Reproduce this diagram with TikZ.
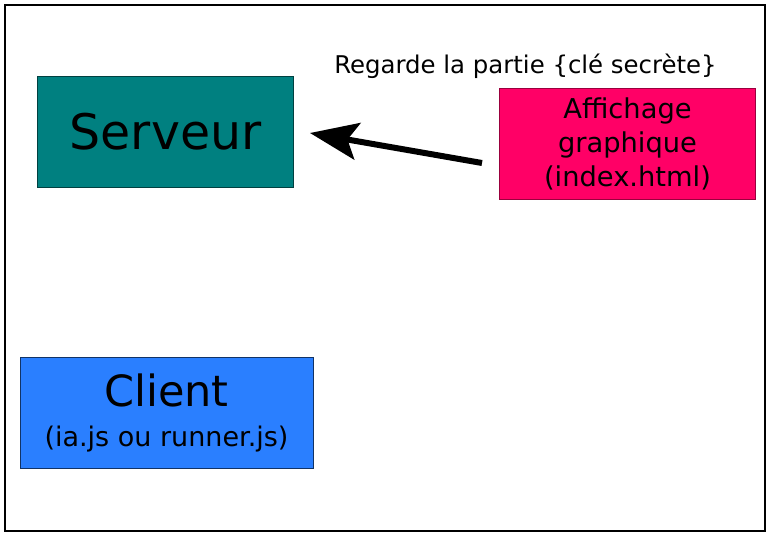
\documentclass[tikz,border=0pt]{standalone}
\usepackage{fontspec}
\setmainfont{DejaVu Sans}
\usetikzlibrary{arrows.meta}
\definecolor{tealbox}{HTML}{008080}
\definecolor{pinkbox}{HTML}{FF0066}
\definecolor{bluebox}{HTML}{2A7FFF}
\tikzset{
  box/.style={draw, line width=0.8pt, minimum width=#1, inner sep=0pt, align=center, text=black},
  frame/.style={draw=black, line width=2.8pt},
  flow/.style={line width=6pt, -{Stealth[length=48pt, width=37pt, inset=10pt]}},
}
\begin{document}
\begin{tikzpicture}[x=1pt, y=-1pt]
\useasboundingbox (0,0) rectangle (771,546);
\draw[frame] (5,5) rectangle (765,531);
\node[box=256pt, minimum height=111pt, fill=tealbox, draw=tealbox!50!black,
  font=\fontsize{49}{52}\selectfont] (serveur) at (165.5,131.5) {Serveur};
\node[box=256pt, minimum height=111pt, fill=pinkbox, draw=pinkbox!60!black,
  font=\fontsize{27.3}{34}\selectfont] (affichage) at (627.5,143.8)
  {Affichage\\graphique\\(index.html)};
\node[box=293pt, minimum height=111pt, fill=bluebox, draw=bluebox!40!black,
  font=\fontsize{27}{34}\selectfont] (client) at (166.5,412.8)
  {\fontsize{43}{46}\selectfont Client\\[6pt](ia.js ou runner.js)};
\node[anchor=base, font=\fontsize{24.4}{28}\selectfont] (regarde) at (525.5,73.5) {Regarde la partie \{clé secrète\}};
\coordinate (tail) at (482,163);
\coordinate (tip) at (310,133);
\draw[flow] (tail) -- (tip);
\end{tikzpicture}
\end{document}
